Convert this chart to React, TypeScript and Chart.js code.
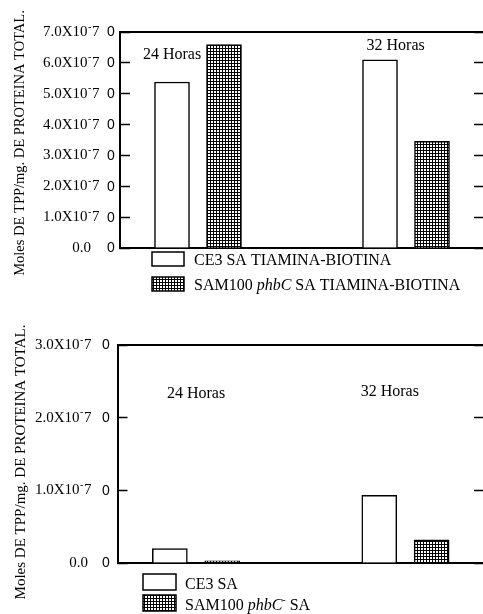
import React, { useEffect, useRef } from "react";
import { Chart, registerables } from "chart.js";

Chart.register(...registerables);

// ---------- data ----------
const hourLabels = ["24 Horas", "32 Horas"];
const topCE3 = [5.38e-7, 6.1e-7];
const topSAM100 = [6.59e-7, 3.46e-7];
const bottomCE3 = [0.2e-7, 0.93e-7];
const bottomSAM100 = [0.03e-7, 0.32e-7];
const topLegendLabels = ["CE3 SA TIAMINA-BIOTINA", "SAM100 *phbC* SA TIAMINA-BIOTINA"];
const bottomLegendLabels = ["CE3 SA", "SAM100 *phbC*^-^ SA"];
const topYMax = 7e-7;
const bottomYMax = 3e-7;
const yStep = 1e-7;
const yExponent = "-7";
const yTitle = "Moles DE TPP/mg. DE PROTEINA TOTAL.";

const SERIF = '"Liberation Serif", "Times New Roman", serif';
const SANS = '"Liberation Sans", Arial, sans-serif';

type Seg = { t: string; s: "n" | "i" | "sup" };
function parseRich(str: string): Seg[] {
  const out: Seg[] = [];
  const re = /\*([^*]+)\*|\^([^^]+)\^|([^*^]+)/g;
  let m: RegExpExecArray | null;
  while ((m = re.exec(str))) {
    if (m[1]) out.push({ t: m[1], s: "i" });
    else if (m[2]) out.push({ t: m[2], s: "sup" });
    else out.push({ t: m[3], s: "n" });
  }
  return out;
}
function drawRich(ctx: CanvasRenderingContext2D, str: string, x: number, y: number, size: number) {
  ctx.textAlign = "left";
  ctx.textBaseline = "middle";
  for (const seg of parseRich(str)) {
    if (seg.s === "sup") {
      ctx.font = `${Math.round(size * 0.65)}px ${SERIF}`;
      ctx.fillText(seg.t, x, y - size * 0.35);
    } else {
      ctx.font = `${seg.s === "i" ? "italic " : ""}${size}px ${SERIF}`;
      ctx.fillText(seg.t, x, y);
    }
    x += ctx.measureText(seg.t).width;
  }
}

function makePattern(): CanvasPattern | string {
  const c = document.createElement("canvas");
  c.width = 3;
  c.height = 3;
  const g = c.getContext("2d");
  if (!g) return "#777";
  g.fillStyle = "#fff";
  g.fillRect(0, 0, 3, 3);
  g.fillStyle = "#000";
  g.fillRect(0, 0, 1, 3);
  g.fillRect(0, 0, 3, 1);
  return g.createPattern(c, "repeat") || "#777";
}

type PanelCfg = {
  top: number;
  padding: { left: number; top: number; right: number; bottom: number };
  ce3: number[];
  sam: number[];
  legend: string[];
  yMax: number;
  tick: { mainRight: number; zeroRight: number; zeroX: number };
  title: { cx: number; cy: number; size: number };
  hours: number[][];
  leg: { x: number; y: number; rowH: number; boxW: number; boxH: number; textX: number; textDy: number; size: number };
};

function makeDecor(cfg: PanelCfg) {
  return {
    id: "decor",
    afterDraw(chart: any) {
      const ctx: CanvasRenderingContext2D = chart.ctx;
      const ys = chart.scales.y;
      const xs = chart.scales.x;
      ctx.save();
      ctx.fillStyle = "#000";
      // tick labels
      ys.ticks.forEach((t: any) => {
        const py = ys.getPixelForValue(t.value);
        const n = Math.round((t.value / yStep) * 10) / 10;
        ctx.textBaseline = "middle";
        if (n === 0) {
          ctx.font = `15px ${SERIF}`;
          ctx.textAlign = "right";
          ctx.fillText("0.0", cfg.tick.zeroRight, py);
        } else {
          ctx.font = `15px ${SERIF}`;
          ctx.textAlign = "right";
          ctx.fillText(n.toFixed(1) + "X10", cfg.tick.mainRight, py);
          ctx.textAlign = "left";
          ctx.font = `10px ${SERIF}`;
          ctx.fillText(yExponent[0], cfg.tick.mainRight + 0.5, py - 5);
          ctx.font = `15px ${SERIF}`;
          ctx.fillText(yExponent.slice(1), cfg.tick.mainRight + 4.5, py);
        }
        ctx.font = `14px ${SANS}`;
        ctx.textAlign = "left";
        ctx.fillText("0", cfg.tick.zeroX, py + 0.5);
      });
      // axis title
      ctx.save();
      ctx.translate(cfg.title.cx, cfg.title.cy);
      ctx.rotate(-Math.PI / 2);
      ctx.font = `${cfg.title.size}px ${SERIF}`;
      ctx.textAlign = "center";
      ctx.textBaseline = "middle";
      ctx.fillText(yTitle, 0, 0);
      ctx.restore();
      // hour labels
      ctx.font = `16px ${SERIF}`;
      ctx.textAlign = "center";
      ctx.textBaseline = "middle";
      hourLabels.forEach((h, i) => {
        ctx.fillText(h, xs.getPixelForValue(cfg.hours[i][0]), ys.getPixelForValue(cfg.hours[i][1]));
      });
      // legend
      const L = cfg.leg;
      chart.data.datasets.forEach((ds: any, i: number) => {
        const by = L.y + i * L.rowH;
        ctx.fillStyle = ds.backgroundColor;
        ctx.fillRect(L.x, by, L.boxW, L.boxH);
        ctx.strokeStyle = "#000";
        ctx.lineWidth = 1.5;
        ctx.strokeRect(L.x, by, L.boxW, L.boxH);
        ctx.fillStyle = "#000";
        drawRich(ctx, cfg.legend[i], L.textX, by + L.textDy, L.size);
      });
      ctx.restore();
    },
  };
}

function Panel({ cfg }: { cfg: PanelCfg }) {
  const ref = useRef<HTMLCanvasElement | null>(null);
  useEffect(() => {
    if (!ref.current) return;
    const pattern = makePattern();
    const barX = (i: number, d: number) => 1 + 4 * i + d;
    const hiddenX = (pos: string) => ({
      type: "linear" as const,
      display: true,
      position: pos,
      min: 0,
      max: 7,
      offset: false,
      ticks: { display: false },
      grid: { display: false, drawTicks: false },
      border: { display: true, color: "#000", width: 2 },
      afterFit: (s: any) => {
        s.height = 0;
      },
    });
    const yAxis = (pos: string) => ({
      type: "linear" as const,
      display: true,
      position: pos,
      min: 0,
      max: cfg.yMax,
      ticks: { display: false, stepSize: yStep },
      grid: {
        display: true,
        drawOnChartArea: false,
        drawTicks: true,
        tickLength: -10,
        tickColor: "#000",
        tickWidth: 1.5,
      },
      border: { display: true, color: "#000", width: 2 },
      afterFit: (s: any) => {
        s.width = 0;
      },
    });
    const chart = new Chart(ref.current, {
      type: "bar",
      data: {
        datasets: [
          {
            label: cfg.legend[0],
            data: cfg.ce3.map((v, i) => ({ x: barX(i, 0), y: v })),
            backgroundColor: "#fff",
            borderColor: "#000",
            borderWidth: 1.5,
            barThickness: 35,
            grouped: false,
          },
          {
            label: cfg.legend[1],
            data: cfg.sam.map((v, i) => ({ x: barX(i, 1), y: v })),
            backgroundColor: pattern as any,
            borderColor: "#000",
            borderWidth: 1.5,
            barThickness: 35,
            grouped: false,
          },
        ] as any,
      },
      options: {
        animation: false,
        responsive: false,
        devicePixelRatio: 1,
        layout: { padding: cfg.padding },
        plugins: { legend: { display: false }, tooltip: { enabled: false } },
        scales: {
          x: hiddenX("bottom"),
          xTop: hiddenX("top"),
          y: yAxis("left"),
          yR: yAxis("right"),
        } as any,
      },
      plugins: [makeDecor(cfg)],
    });
    return () => chart.destroy();
  }, []);
  return (
    <canvas
      ref={ref}
      width={490}
      height={307}
      style={{ position: "absolute", left: 0, top: cfg.top, display: "block" }}
    />
  );
}

const topCfg: PanelCfg = {
  top: 0,
  padding: { left: 120, top: 32, right: 6, bottom: 59 },
  ce3: topCE3,
  sam: topSAM100,
  legend: topLegendLabels,
  yMax: topYMax,
  tick: { mainRight: 87.5, zeroRight: 91, zeroX: 107 },
  title: { cx: 20, cy: 143, size: 14.5 },
  hours: [
    [1.0, 6.25e-7],
    [5.3, 6.55e-7],
  ],
  leg: { x: 152, y: 252, rowH: 25, boxW: 32, boxH: 14, textX: 194, textDy: 9, size: 16 },
};

const bottomCfg: PanelCfg = {
  top: 307,
  padding: { left: 117.5, top: 38, right: 6, bottom: 51 },
  ce3: bottomCE3,
  sam: bottomSAM100,
  legend: bottomLegendLabels,
  yMax: bottomYMax,
  tick: { mainRight: 79.5, zeroRight: 88, zeroX: 102 },
  title: { cx: 21, cy: 155, size: 15 },
  hours: [
    [1.5, 2.33e-7],
    [5.2, 2.36e-7],
  ],
  leg: { x: 143, y: 267, rowH: 21, boxW: 33, boxH: 16, textX: 185, textDy: 11, size: 16 },
};

export default function App() {
  return (
    <div
      style={{
        position: "absolute",
        left: 0,
        top: 0,
        width: 483,
        height: 614,
        overflow: "hidden",
        background: "#fff",
      }}
    >
      <Panel cfg={topCfg} />
      <Panel cfg={bottomCfg} />
    </div>
  );
}
